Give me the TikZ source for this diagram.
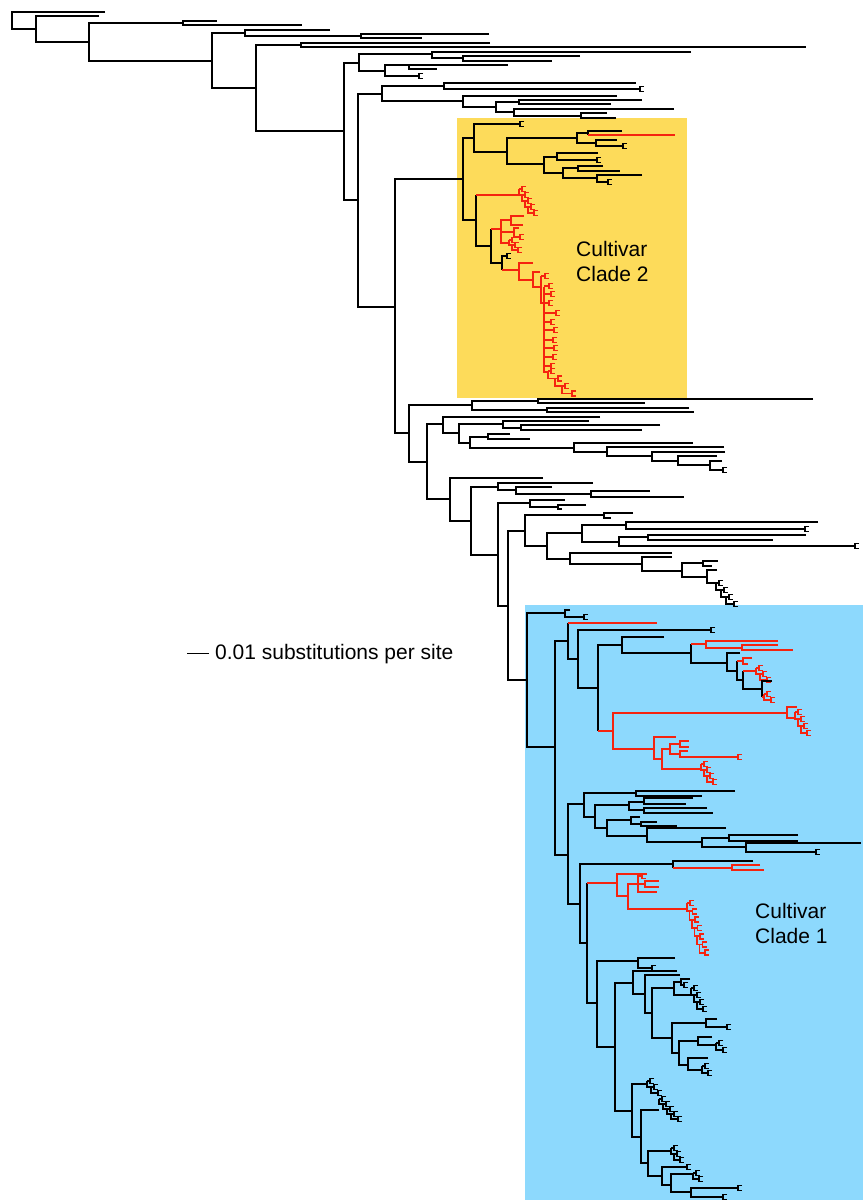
\documentclass[tikz,border=0pt]{standalone}
\usepackage{fontspec}
\setmainfont{Liberation Sans}
\usetikzlibrary{positioning}
\definecolor{cladered}{RGB}{245,35,15}
\definecolor{cladeyellow}{RGB}{253,219,90}
\definecolor{cladeblue}{RGB}{141,217,253}
\tikzset{
  br/.style={line width=1.8pt, black},
  rb/.style={br, draw=cladered},
  lbl/.style={font=\fontsize{21}{25}\selectfont, inner sep=0pt, align=left}
}
% bracket: node x, upper child (y, end x), lower child (y, end x)
\newcommand\clade[6][]{\draw[br,#1] (#4,#3) -| (#2,#5) -- (#6,#5);}
% tiny cherry at a tip
\newcommand\tp[3][]{\draw[br,#1] ({#2+4},{#3-2.5}) -| ({#2},{#3+2.5}) -- ({#2+4},{#3+2.5});}
% ladder of tiny cherries: x, y, steps, dx, dy
\newcommand\cat[6][]{%
  \foreach \k in {1,...,#4}{%
    \draw[br,#1] ({#2+#5*(\k-1)},{#3+#6*(\k-1)}) -- ++(3,0)
      ({#2+#5*(\k-1)},{#3+#6*(\k-1)}) |- ({#2+#5*\k},{#3+#6*\k});
    \tp[#1]{#2+#5*(\k-1)+3}{#3+#6*(\k-1)}
  }%
  \draw[br,#1] ({#2+#5*#4},{#3+#6*#4}) -- ++(3,0);
  \tp[#1]{#2+#5*#4+3}{#3+#6*#4}}

\begin{document}
\begin{tikzpicture}[x=1pt,y=-1pt]
  \useasboundingbox (0,0) rectangle (863,1200);
  % clade boxes
  \fill[cladeyellow] (457,118) rectangle (687,398);
  \fill[cladeblue] (525,605) rectangle (863,1200);

  % backbone and top
  \clade{12}{12}{105}{29}{36}
  \clade{36}{16}{99}{42}{89}
  \clade{89}{23}{183}{61}{212}
  \clade{183}{21}{217}{25}{302}
  \clade{212}{33}{245}{88}{256}
  \clade{245}{30}{330}{36}{361}
  \clade{361}{34}{489}{38}{422}
  \clade{256}{45}{301}{131}{344}
  \clade{301}{43}{490}{47}{806}
  \clade{344}{63}{359}{200}{358}
  \clade{359}{54}{432}{71}{385}
  \clade{432}{52}{691}{58}{463}
  \clade{463}{56}{580}{61}{552}
  \clade{385}{65}{409}{76}{419} \tp{419}{76}
  \clade{409}{65}{508}{69}{437}
  \clade{358}{94}{382}{307}{395}
  \clade{382}{86}{444}{101}{463}
  \clade{444}{83}{636}{89}{640} \tp{640}{89}
  \clade{463}{96}{617}{107}{496}
  \clade{496}{102}{519}{112}{514}
  \clade{519}{100}{642}{104}{611}
  \clade{514}{109}{674}{116}{581}
  \clade{581}{113}{607}{118}{616}

  % cultivar clade 2 area
  \clade{395}{179}{463}{433}{409}
  \clade{463}{138}{474}{220}{476}
  \clade{474}{124}{520}{152}{507} \tp{520}{124}
  \clade{507}{138}{577}{164}{544}
  \clade{577}{133}{588}{143}{596}
  \draw[br] (622,131) -| (588,135);
  \draw[rb] (588,135) -- (675,135);
  \clade{596}{140}{617}{146}{623} \tp{623}{146}
  \clade{544}{157}{557}{173}{563}
  \clade{557}{153}{598}{160}{597} \tp{597}{160}
  \clade{563}{168}{578}{178}{597}
  \clade{578}{166}{603}{171}{620}
  \clade{597}{175}{642}{182}{608} \tp{608}{182}
  \draw[br] (476,195) -- (476,246) -- (491,246);
  \draw[rb] (476,195) -- (519,195);
  \cat[rb]{519}{189}{4}{3}{6}
  \draw[br] (491,229) -- (491,263) -- (502,263);
  \draw[rb] (491,229) -- (501,229);
  \draw[rb] (511,220) -| (501,243) -- (509,243);
  \draw[rb] (501,232) -- (514,232);
  \clade[rb]{511}{216}{524}{225}{523}
  \clade[rb]{514}{228}{519}{237}{520} \tp[rb]{520}{237}
  \cat[rb]{509}{240}{2}{3}{5}
  \draw[br] (507,256) -| (502,270); \tp{507}{256}
  \draw[rb] (502,270) -- (519,270);
  \clade[rb]{519}{263}{533}{280}{533}
  \clade[rb]{533}{272}{540}{287}{541}
  \draw[rb] (541,276) -- (541,303) -- (544,303);
  \draw[rb] (541,276) -- (545,276); \tp[rb]{545}{276}
  \draw[rb] (544,287) -- (544,372) -- (548,372);
  \foreach \y/\x in {286/549,294/551,303/549,313/556,322/551,330/554,340/553,348/554,357/553,366/551}
    {\draw[rb] (544,\y) -- (\x,\y); \tp[rb]{\x}{\y}}
  \cat[rb]{548}{371}{3}{7}{7.5}

  % middle part
  \clade{409}{405}{472}{462}{427}
  \clade{472}{401}{538}{410}{547}
  \clade{538}{399}{813}{403}{645}
  \clade{547}{408}{689}{412}{694}
  \clade{427}{424}{443}{499}{450}
  \clade{443}{417}{600}{433}{459}
  \clade{459}{424}{503}{443}{470}
  \clade{503}{421}{589}{428}{521}
  \clade{521}{425}{660}{430}{642}
  \clade{470}{437}{488}{448}{574}
  \clade{488}{434}{510}{439}{530}
  \clade{574}{443}{693}{452}{607}
  \clade{607}{447}{724}{456}{652}
  \clade{652}{452}{725}{461}{678}
  \clade{678}{456}{717}{465}{710}
  \clade{710}{461}{722}{470}{723} \tp{723}{470}
  \clade{450}{478}{543}{521}{471}
  \clade{471}{487}{498}{555}{498}
  \clade{498}{483}{593}{490}{516}
  \clade{516}{487}{552}{494}{591}
  \clade{591}{491}{650}{497}{684}
  \clade{498}{503}{530}{606}{508}
  \clade{530}{500}{565}{507}{558}
  \clade{558}{505}{586}{509}{562}
  \clade{508}{531}{525}{680}{527}
  \clade{525}{515}{604}{546}{547}
  \clade{604}{513}{633}{518}{611}
  \clade{547}{533}{582}{559}{570}
  \clade{582}{525}{626}{542}{619}
  \clade{626}{522}{818}{529}{805} \tp{805}{529}
  \clade{619}{537}{648}{546}{855} \tp{855}{546}
  \clade{648}{535}{806}{540}{773}
  \clade{570}{553}{672}{564}{642}
  \clade{642}{557}{672}{571}{682}
  \clade{682}{563}{703}{577}{707}
  \clade{703}{561}{718}{566}{712}
  \clade{707}{570}{717}{583}{716}
  \cat{716}{583}{3}{5}{7}

  % cultivar clade 1 area
  \clade{527}{613}{565}{747}{555}
  \clade{565}{610}{570}{617}{584} \tp{584}{617}
  \clade{555}{641}{568}{855}{568}
  \draw[br] (568,623) -- (568,659) -- (578,659);
  \draw[rb] (568,623) -- (657,623);
  \clade{578}{630}{711}{688}{598} \tp{711}{630}
  \draw[br] (622,645) -| (598,731);
  \draw[rb] (598,731) -- (613,731);
  \clade{622}{637}{664}{653}{691}
  \draw[br] (691,644) -- (691,663) -- (727,663);
  \draw[rb] (691,644) -- (706,644);
  \clade[rb]{706}{641}{778}{648}{742}
  \clade[rb]{742}{645}{778}{650}{793}
  \clade{727}{653}{740}{671}{737}
  \draw[br] (737,661) -- (737,680) -- (743,680);
  \draw[rb] (737,661) -- (743,661);
  \clade[rb]{743}{658}{752}{664}{748}
  \draw[br] (743,671) -- (743,689) -- (762,689);
  \draw[rb] (743,671) -- (756,671);
  \cat[rb]{756}{668}{2}{4}{6}
  \draw[br] (772,681) -| (762,697);
  \draw[rb] (762,697) -- (764,697);
  \cat[rb]{764}{694}{1}{4}{6}
  \clade[rb]{613}{713}{787}{749}{654}
  \clade[rb]{787}{707}{797}{718}{795}
  \cat[rb]{795}{712}{3}{3}{7}
  \clade[rb]{654}{737}{676}{759}{662}
  \clade[rb]{662}{749}{670}{769}{701}
  \clade[rb]{670}{744}{680}{754}{680}
  \clade[rb]{680}{741}{689}{747}{689}
  \clade[rb]{680}{751}{688}{757}{738} \tp[rb]{738}{757}
  \cat[rb]{701}{764}{3}{3}{6}
  \clade{568}{804}{584}{904}{580}
  \clade{584}{793}{636}{817}{595}
  \clade{636}{791}{735}{796}{702}
  \clade{595}{805}{629}{828}{607}
  \clade{629}{802}{644}{810}{644}
  \clade{644}{798}{693}{804}{686}
  \clade{644}{808}{707}{813}{713}
  \clade{607}{820}{631}{836}{647}
  \clade{631}{817}{640}{824}{641}
  \clade{641}{822}{657}{826}{677}
  \clade{647}{828}{726}{842}{702}
  \clade{702}{838}{729}{847}{746}
  \clade{729}{835}{798}{841}{798}
  \clade{746}{843}{861}{852}{816} \tp{816}{852}
  \clade{580}{864}{673}{943}{587}
  \draw[br] (753,861) -| (673,868);
  \draw[rb] (673,868) -- (732,868);
  \clade[rb]{732}{865}{760}{870}{764}
  \draw[br] (587,883) -- (587,1003) -- (597,1003);
  \draw[rb] (587,883) -- (617,883);
  \clade[rb]{617}{874}{647}{896}{628}
  \clade[rb]{628}{884}{638}{909}{687}
  \draw[rb] (642,876) -| (638,892) -- (657,892); \tp[rb]{642}{876}
  \draw[rb] (638,884) -- (645,884);
  \clade[rb]{645}{881}{659}{887}{659}
  \cat[rb]{687}{903}{6}{2.5}{8.3}
  \clade{597}{961}{638}{1047}{615}
  \clade{638}{958}{675}{968}{652} \tp{652}{968}
  \clade{615}{983}{633}{1111}{632}
  \clade{633}{971}{677}{994}{645}
  \clade{645}{975}{680}{1013}{652}
  \clade{652}{988}{674}{1038}{672}
  \clade{674}{982}{681}{995}{691}
  \clade{681}{979}{690}{985}{684} \tp{684}{985}
  \cat{691}{988}{3}{3}{7}
  \clade{672}{1023}{706}{1053}{679}
  \clade{706}{1019}{717}{1027}{727} \tp{727}{1027}
  \clade{679}{1041}{698}{1065}{688}
  \clade{698}{1037}{712}{1045}{716}
  \cat{716}{1043}{1}{4}{7}
  \clade{688}{1058}{708}{1070}{702}
  \cat{702}{1066}{1}{3}{7}
  \clade{632}{1084}{647}{1137}{641}
  \cat{647}{1081}{2}{4}{6}
  \clade{641}{1110}{659}{1163}{648}
  \cat{659}{1099}{4}{4}{5}
  \clade{648}{1151}{671}{1176}{662}
  \cat{671}{1148}{2}{3}{6}
  \clade{662}{1167}{687}{1185}{671} \tp{687}{1167}
  \clade{671}{1174}{693}{1192}{691}
  \cat{693}{1173}{1}{3}{6}
  \clade{691}{1188}{738}{1197}{723} \tp{738}{1188} \tp{723}{1197}

  % labels
  \node[lbl, anchor=north west] (cv2) at (576,241) {Cultivar\\Clade 2};
  \node[lbl, anchor=north west] (cv1) at (755,903) {Cultivar\\Clade 1};
  \node[lbl, anchor=base west] (scale) at (215,659) {0.01 substitutions per site};
  \draw[br] ([xshift=-6pt]scale.west) -- ++(-22,0);
\end{tikzpicture}
\end{document}
